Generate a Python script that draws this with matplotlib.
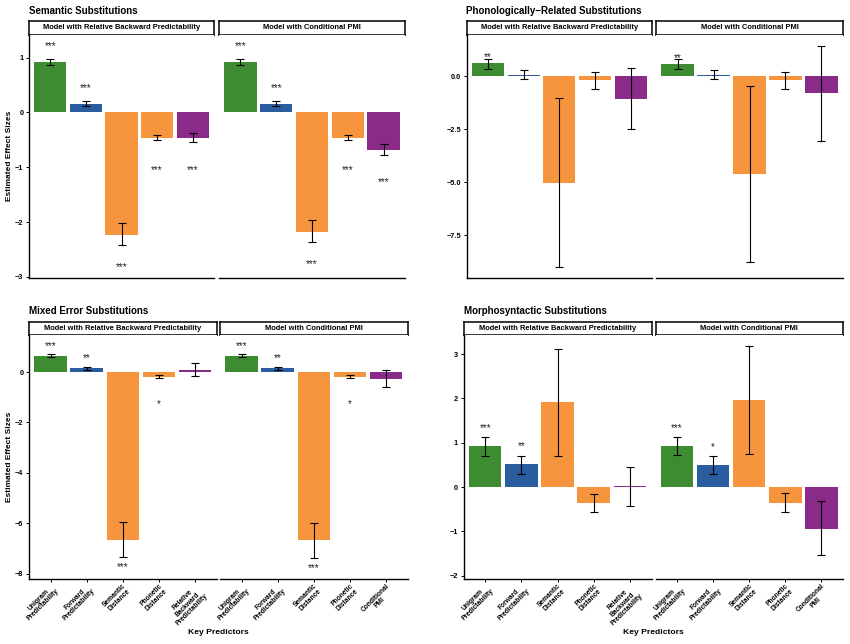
import matplotlib.pyplot as plt

plt.rcParams['font.family'] = ['Liberation Sans', 'DejaVu Sans']
plt.rcParams['font.weight'] = 'bold'

W, H = 850, 644

GREEN = '#3E8C31'
BLUE = '#2A5D9F'
ORANGE = '#F7953F'
PURPLE = '#8A2B8A'
bar_colors = [GREEN, BLUE, ORANGE, ORANGE, PURPLE]

preds_rbp = ['Unigram\nPredictability', 'Forward\nPredictability', 'Semantic\nDistance',
             'Phonetic\nDistance', 'Relative\nBackward\nPredictability']
preds_cpmi = ['Unigram\nPredictability', 'Forward\nPredictability', 'Semantic\nDistance',
              'Phonetic\nDistance', 'Conditional\nPMI']
strip_rbp = 'Model with Relative Backward Predictability'
strip_cpmi = 'Model with Conditional PMI'

# Semantic substitutions
sem_rbp_est = [0.92, 0.15, -2.23, -0.47, -0.47]
sem_rbp_lo = [0.87, 0.11, -2.42, -0.51, -0.54]
sem_rbp_hi = [0.97, 0.20, -2.02, -0.42, -0.38]
sem_rbp_sig = ['***', '***', '***', '***', '***']
sem_cpmi_est = [0.92, 0.15, -2.18, -0.47, -0.68]
sem_cpmi_lo = [0.87, 0.11, -2.37, -0.51, -0.78]
sem_cpmi_hi = [0.97, 0.20, -1.97, -0.42, -0.58]
sem_cpmi_sig = ['***', '***', '***', '***', '***']

# Phonologically-related substitutions
pho_rbp_est = [0.62, 0.05, -5.03, -0.17, -1.08]
pho_rbp_lo = [0.37, -0.13, -9.02, -0.58, -2.48]
pho_rbp_hi = [0.83, 0.28, -1.00, 0.22, 0.38]
pho_rbp_sig = ['**', '', '', '', '']
pho_cpmi_est = [0.57, 0.07, -4.60, -0.15, -0.79]
pho_cpmi_lo = [0.35, -0.12, -8.77, -0.58, -3.05]
pho_cpmi_hi = [0.80, 0.30, -0.44, 0.22, 1.45]
pho_cpmi_sig = ['**', '', '', '', '']

# Mixed error substitutions
mix_rbp_est = [0.63, 0.15, -6.65, -0.19, 0.10]
mix_rbp_lo = [0.58, 0.08, -7.35, -0.25, -0.17]
mix_rbp_hi = [0.70, 0.22, -5.93, -0.10, 0.35]
mix_rbp_sig = ['***', '**', '***', '*', '']
mix_cpmi_est = [0.63, 0.15, -6.68, -0.18, -0.27]
mix_cpmi_lo = [0.58, 0.10, -7.38, -0.25, -0.60]
mix_cpmi_hi = [0.70, 0.20, -5.97, -0.10, 0.07]
mix_cpmi_sig = ['***', '**', '***', '*', '']

# Morphosyntactic substitutions
mor_rbp_est = [0.93, 0.52, 1.92, -0.35, 0.02]
mor_rbp_lo = [0.71, 0.30, 0.70, -0.56, -0.43]
mor_rbp_hi = [1.13, 0.71, 3.12, -0.15, 0.45]
mor_rbp_sig = ['***', '**', '', '', '']
mor_cpmi_est = [0.93, 0.50, 1.97, -0.35, -0.94]
mor_cpmi_lo = [0.73, 0.29, 0.74, -0.56, -1.54]
mor_cpmi_hi = [1.14, 0.69, 3.18, -0.14, -0.31]
mor_cpmi_sig = ['***', '*', '', '', '']

fig = plt.figure(figsize=(W / 100, H / 100), dpi=100)


def box(x0, y0, x1, y1):
    return [x0 / W, 1 - y1 / H, (x1 - x0) / W, (y1 - y0) / H]


def draw_facet(xr, top, bottom, strip, labels, est, lo, hi, sig, ylim, yticks,
               yfmt, star_up, star_dn, show_y, show_x):
    sax = fig.add_axes(box(xr[0], top - 13.5, xr[1], top))
    sax.set_xticks([])
    sax.set_yticks([])
    for s in sax.spines.values():
        s.set_linewidth(1.1)
    sax.text(0.5, 0.5, strip, ha='center', va='center', fontsize=5.4,
             fontweight='bold', transform=sax.transAxes)

    ax = fig.add_axes(box(xr[0], top, xr[1], bottom))
    xs = list(range(1, len(est) + 1))
    ax.bar(xs, est, width=0.9, color=bar_colors)
    yerr = [[e - l for e, l in zip(est, lo)], [h - e for e, h in zip(est, hi)]]
    ax.errorbar(xs, est, yerr=yerr, fmt='none', ecolor='black', elinewidth=0.8,
                capsize=2.6, capthick=0.8)
    for x, e, s in zip(xs, est, sig):
        if not s:
            continue
        y = e + star_up if e > 0 else e - star_dn
        ax.annotate(s, (x, y), xytext=(0, -3.6), textcoords='offset points',
                    ha='center', va='baseline', fontsize=7, fontweight='normal',
                    color='#222222', annotation_clip=False)
    ax.set_xlim(0.4, len(est) + 0.6)
    ax.set_ylim(*ylim)
    ax.spines['top'].set_visible(False)
    ax.spines['right'].set_visible(False)
    ax.spines['bottom'].set_linewidth(1.0)
    ax.spines['left'].set_linewidth(1.0)
    if show_y:
        ax.set_yticks(yticks)
        ax.set_yticklabels([yfmt.format(t).replace('-', '\u2212') for t in yticks],
                           fontsize=5.3, fontweight='bold')
        ax.tick_params(axis='y', length=2.5, width=0.7, pad=1.5)
    else:
        ax.spines['left'].set_visible(False)
        ax.set_yticks([])
    if show_x:
        ax.set_xticks(xs)
        ax.set_xticklabels(labels, rotation=45, ha='right', va='top',
                           rotation_mode='anchor', fontsize=4.8,
                           fontweight='bold', linespacing=0.9,
                           multialignment='center')
        ax.tick_params(axis='x', length=2.5, width=0.7, pad=0)
    else:
        ax.set_xticks([])
    return ax


def draw_panel(title, left, right_facets, top, bottom, rows, ylim, yticks, yfmt,
               star_up, star_dn, ylab, xlab):
    (x0, x1), (x2, x3) = left, right_facets
    fig.text(x0 / W, 1 - (top - 24) / H, title, ha='left', va='center',
             fontsize=7.0, fontweight='bold')
    (e1, l1, h1, s1), (e2, l2, h2, s2) = rows
    draw_facet((x0, x1), top, bottom, strip_rbp, preds_rbp, e1, l1, h1, s1,
               ylim, yticks, yfmt, star_up, star_dn, True, xlab)
    draw_facet((x2, x3), top, bottom, strip_cpmi, preds_cpmi, e2, l2, h2, s2,
               ylim, yticks, yfmt, star_up, star_dn, False, xlab)
    if ylab:
        fig.text(10 / W, 1 - (top + bottom) / 2 / H, 'Estimated Effect Sizes',
                 rotation=90, ha='center', va='center', fontsize=6,
                 fontweight='bold')
    if xlab:
        fig.text((x0 + x3) / 2 / W, 1 - 633 / H, 'Key Predictors',
                 ha='center', va='center', fontsize=6.1, fontweight='bold')


draw_panel('Semantic Substitutions', (29, 214), (219, 405), 34.5, 278,
           [(sem_rbp_est, sem_rbp_lo, sem_rbp_hi, sem_rbp_sig),
            (sem_cpmi_est, sem_cpmi_lo, sem_cpmi_hi, sem_cpmi_sig)],
           (-3.02, 1.42), [-3, -2, -1, 0, 1], '{:.0f}', 0.33, 0.55, True, False)

draw_panel('Phonologically\u2212Related Substitutions', (466.5, 652), (656, 843), 34.5, 278,
           [(pho_rbp_est, pho_rbp_lo, pho_rbp_hi, pho_rbp_sig),
            (pho_cpmi_est, pho_cpmi_lo, pho_cpmi_hi, pho_cpmi_sig)],
           (-9.53, 1.98), [-7.5, -5.0, -2.5, 0.0], '{:.1f}', 0.37, 0.6, False, False)

draw_panel('Mixed Error Substitutions', (29, 216.5), (220, 407.5), 335, 579.3,
           [(mix_rbp_est, mix_rbp_lo, mix_rbp_hi, mix_rbp_sig),
            (mix_cpmi_est, mix_cpmi_lo, mix_cpmi_hi, mix_cpmi_sig)],
           (-8.22, 1.47), [-8, -6, -4, -2, 0], '{:.0f}', 0.49, 1.0, True, True)

draw_panel('Morphosyntactic Substitutions', (463.5, 651.5), (655.5, 843), 335, 579.3,
           [(mor_rbp_est, mor_rbp_lo, mor_rbp_hi, mor_rbp_sig),
            (mor_cpmi_est, mor_cpmi_lo, mor_cpmi_hi, mor_cpmi_sig)],
           (-2.08, 3.43), [-2, -1, 0, 1, 2, 3], '{:.0f}', 0.44, 0.6, False, True)

fig.savefig('out.png', dpi=100)
